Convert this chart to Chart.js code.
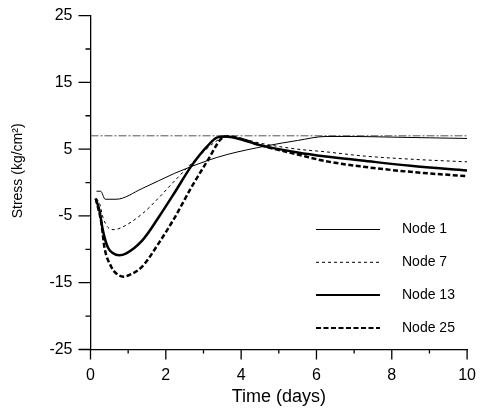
<!DOCTYPE html>
<html>
<head>
<meta charset="utf-8">
<script src="https://cdn.jsdelivr.net/npm/chart.js@4"></script>
<style>
  html, body { margin: 0; padding: 0; background: #fff; }
  #wrap { width: 482px; height: 409px; position: relative; }
</style>
</head>
<body>
<div id="wrap"><canvas id="stressChart"></canvas></div>
<script>
// valores (tempo em dias, tensão em kg/cm2)
const seriesNames = ['Node 1', 'Node 7', 'Node 13', 'Node 25'];

const daysNode1 = [0.16, 0.27, 0.39, 0.68, 1.37, 2.24, 3.11, 3.63, 4.68, 5.5, 6.25, 7.0, 8.0, 9.0, 10];
const stressNode1 = [-1.3, -1.3, -2.5, -2.5, -0.9, 1.4, 3.3, 4.2, 5.5, 6.3, 6.9, 6.9, 6.8, 6.7, 6.6];

const daysNode7 = [0.15, 0.24, 0.33, 0.46, 0.62, 0.8, 1.37, 1.81, 2.24, 2.85, 3.29, 3.55, 4.0, 4.5, 5.5, 6.25, 7.2, 8.5, 10];
const stressNode7 = [-2.4, -3.1, -5.2, -6.7, -7.05, -6.8, -4.7, -2.3, 0.3, 3.8, 6.0, 6.8, 6.6, 5.9, 5.0, 4.6, 4.0, 3.5, 3.1];

const daysNode13 = [0.14, 0.24, 0.33, 0.46, 0.6, 0.76, 0.95, 1.37, 1.81, 2.24, 2.68, 3.11, 3.37, 3.6, 3.9, 4.5, 5.5, 6.25, 7.2, 8.5, 10];
const stressNode13 = [-2.4, -4.25, -7.2, -9.7, -10.6, -10.9, -10.6, -8.7, -5.2, -1.45, 2.5, 5.5, 6.76, 6.9, 6.6, 5.6, 4.5, 3.9, 3.3, 2.5, 1.8];

const daysNode25 = [0.14, 0.29, 0.37, 0.55, 0.7, 0.88, 1.05, 1.37, 1.81, 2.24, 2.68, 3.11, 3.46, 3.6, 3.9, 4.5, 5.5, 6.25, 7.2, 8.5, 10];
const stressNode25 = [-2.4, -6.1, -9.7, -12.6, -13.7, -14.1, -13.8, -12.6, -9.1, -5.2, -0.7, 3.3, 6.5, 6.9, 6.7, 5.6, 4.2, 3.2, 2.4, 1.6, 0.95];

// linha horizontal de referência
const limitDays = [0, 10];
const limitStress = [7, 7];

const xTicks = [0, 1, 2, 3, 4, 5, 6, 7, 8, 9, 10];
const yTicks = [-25, -20, -15, -10, -5, 0, 5, 10, 15, 20, 25];

const FONT = '"Liberation Sans", Arial, sans-serif';

function toPoints(xs, ys) {
  return xs.map((x, i) => ({ x: x, y: ys[i] }));
}

// ticks desenhados à mão (maiores com rótulo, menores sem)
const axisTicksPlugin = {
  id: 'axisTicks',
  afterDraw(chart) {
    const { ctx, scales: { x, y } } = chart;
    ctx.save();
    ctx.strokeStyle = '#000';
    ctx.lineWidth = 1.3;
    ctx.beginPath();
    xTicks.forEach(v => {
      const px = x.getPixelForValue(v);
      const len = v % 2 === 0 ? 10 : 4;
      ctx.moveTo(px, y.bottom);
      ctx.lineTo(px, y.bottom + len);
    });
    yTicks.forEach(v => {
      const py = y.getPixelForValue(v);
      const len = Math.abs(v) % 10 === 5 ? 12 : 5;
      ctx.moveTo(x.left, py);
      ctx.lineTo(x.left - len, py);
    });
    ctx.stroke();
    ctx.restore();
  }
};

// legenda dentro da área do gráfico
const insideLegendPlugin = {
  id: 'insideLegend',
  afterDraw(chart) {
    const ctx = chart.ctx;
    const lineX1 = 316, lineX2 = 380, textX = 402;
    const rowY = [229.5, 262.3, 295, 328];
    ctx.save();
    ctx.font = '14px ' + FONT;
    ctx.fillStyle = '#000';
    ctx.textBaseline = 'middle';
    seriesNames.forEach((name, i) => {
      const ds = chart.data.datasets[i];
      ctx.beginPath();
      ctx.strokeStyle = '#000';
      ctx.lineWidth = Math.min(ds.borderWidth, 2);
      ctx.setLineDash(ds.borderDash || []);
      ctx.moveTo(lineX1, rowY[i]);
      ctx.lineTo(lineX2, rowY[i]);
      ctx.stroke();
      ctx.setLineDash([]);
      ctx.fillText(name, textX, rowY[i]);
    });
    ctx.restore();
  }
};

const ctx = document.getElementById('stressChart').getContext('2d');

new Chart(ctx, {
  type: 'scatter',
  data: {
    datasets: [
      { label: seriesNames[0], data: toPoints(daysNode1, stressNode1), borderColor: '#000', borderWidth: 1, borderDash: [] },
      { label: seriesNames[1], data: toPoints(daysNode7, stressNode7), borderColor: '#000', borderWidth: 1, borderDash: [3, 3] },
      { label: seriesNames[2], data: toPoints(daysNode13, stressNode13), borderColor: '#000', borderWidth: 2.5, borderDash: [] },
      { label: seriesNames[3], data: toPoints(daysNode25, stressNode25), borderColor: '#000', borderWidth: 2.5, borderDash: [5, 2.5] },
      { label: 'limit', data: toPoints(limitDays, limitStress), borderColor: '#555', borderWidth: 1, borderDash: [8, 2, 2, 2] }
    ].map(ds => Object.assign(ds, {
      showLine: true,
      pointRadius: 0,
      cubicInterpolationMode: 'monotone',
      fill: false
    }))
  },
  options: {
    responsive: true,
    maintainAspectRatio: false,
    animation: false,
    layout: { padding: { top: 14, right: 8, left: 0, bottom: 0 } },
    plugins: {
      legend: { display: false },
      tooltip: { enabled: false }
    },
    scales: {
      x: {
        type: 'linear',
        min: 0,
        max: 10,
        afterFit: s => { s.height = 59.5; },
        border: { display: true, color: '#000', width: 1.3 },
        grid: { display: true, drawOnChartArea: false, tickLength: 10, tickColor: 'transparent' },
        ticks: {
          stepSize: 1,
          padding: 6,
          color: '#000',
          font: { family: FONT, size: 16 },
          maxRotation: 0,
          callback: v => (v % 2 === 0 ? v : '')
        },
        title: {
          display: true,
          text: 'Time (days)',
          color: '#000',
          font: { family: FONT, size: 18 },
          padding: { top: 0, bottom: 1 }
        }
      },
      y: {
        type: 'linear',
        min: -25,
        max: 25,
        afterFit: s => { s.width = 90.5; },
        border: { display: true, color: '#000', width: 1.3 },
        grid: { display: true, drawOnChartArea: false, tickLength: 12, tickColor: 'transparent' },
        ticks: {
          stepSize: 5,
          padding: 6,
          color: '#000',
          font: { family: FONT, size: 16 },
          callback: v => (Math.abs(v) % 10 === 5 ? v : '')
        },
        title: {
          display: true,
          // espaços à esquerda sobem o texto, como no original
          text: '\u00A0\u00A0\u00A0\u00A0\u00A0\u00A0Stress (kg/cm²)',
          color: '#000',
          font: { family: FONT, size: 14 },
          padding: { top: 10, bottom: 0 }
        }
      }
    }
  },
  plugins: [axisTicksPlugin, insideLegendPlugin]
});
</script>
</body>
</html>
